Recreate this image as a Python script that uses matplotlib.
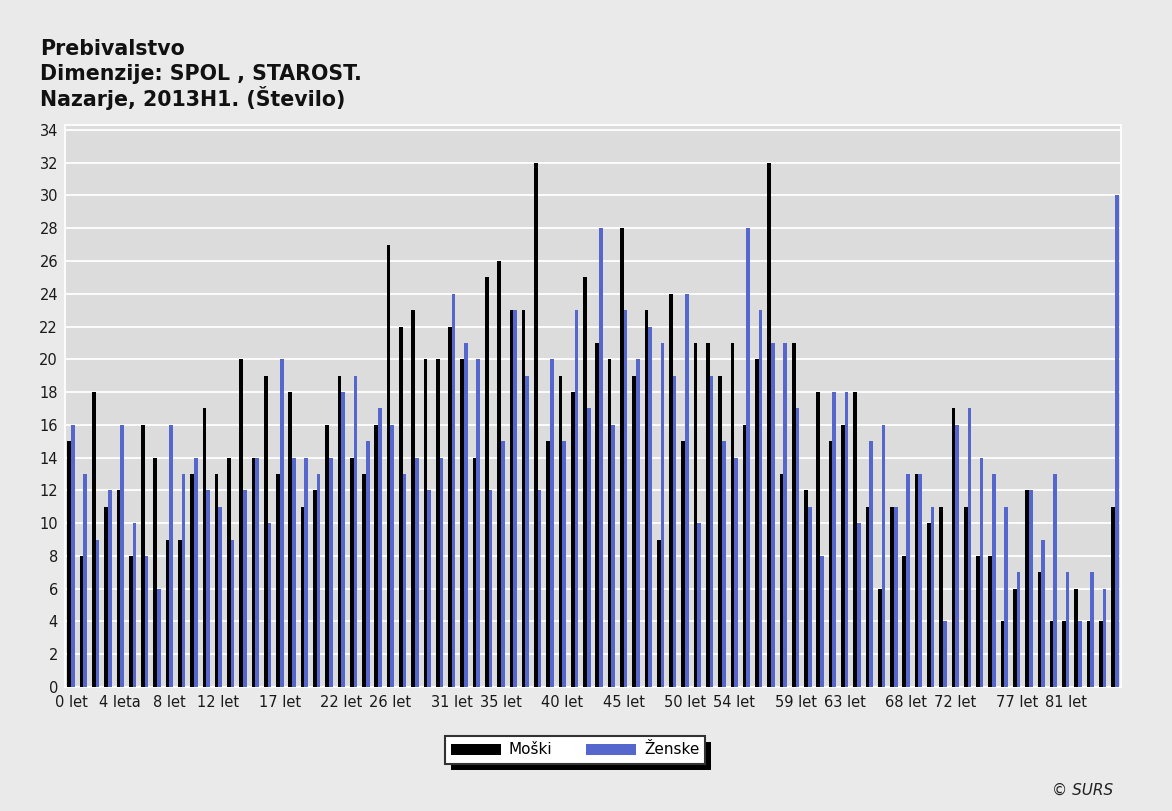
import matplotlib
matplotlib.use("Agg")
import matplotlib.pyplot as plt
from matplotlib.patches import Rectangle
import numpy as np


def age_label(a):
    if a % 100 == 1:
        return f"{a} leto"
    if a % 100 == 2:
        return f"{a} leti"
    if a % 100 in (3, 4):
        return f"{a} leta"
    return f"{a} let"


ages = [age_label(a) for a in range(85)] + ["85 + let"]

moski = [15, 8, 18, 11, 12, 8, 16, 14, 9, 9,
         13, 17, 13, 14, 20, 14, 19, 13, 18, 11,
         12, 16, 19, 14, 13, 16, 27, 22, 23, 20,
         20, 22, 20, 14, 25, 26, 23, 23, 32, 15,
         19, 18, 25, 21, 20, 28, 19, 23, 9, 24,
         15, 21, 21, 19, 21, 16, 20, 32, 13, 21,
         12, 18, 15, 16, 18, 11, 6, 11, 8, 13,
         10, 11, 17, 11, 8, 8, 4, 6, 12, 7,
         4, 4, 6, 4, 4, 11]

zenske = [16, 13, 9, 12, 16, 10, 8, 6, 16, 13,
          14, 12, 11, 9, 12, 14, 10, 20, 14, 14,
          13, 14, 18, 19, 15, 17, 16, 13, 14, 12,
          14, 24, 21, 20, 12, 15, 23, 19, 12, 20,
          15, 23, 17, 28, 16, 23, 20, 22, 21, 19,
          24, 10, 19, 15, 14, 28, 23, 21, 21, 17,
          11, 8, 18, 18, 10, 15, 16, 11, 13, 13,
          11, 4, 16, 17, 14, 13, 11, 7, 12, 9,
          13, 7, 4, 7, 6, 30]

shown_ticks = [0, 4, 8, 12, 17, 22, 26, 31, 35, 40, 45, 50, 54, 59, 63, 68, 72, 77, 81]

title_lines = ["Prebivalstvo", "Dimenzije: SPOL , STAROST.", "Nazarje, 2013H1. (Število)"]

BG = "#eaeaea"
PLOT_BG = "#dcdcdc"
BLUE = "#5566cc"

fig = plt.figure(figsize=(11.72, 8.11), dpi=100, facecolor=BG)
ax = fig.add_axes([65 / 1172, 1 - 687 / 811, (1121 - 65) / 1172, (687 - 125) / 811])
ax.set_facecolor(PLOT_BG)

x = np.arange(len(ages))
w = 0.3
ax.bar(x - w, moski, width=w, align="edge", color="black", label="Moški", zorder=3)
ax.bar(x, zenske, width=w, align="edge", color=BLUE, label="Ženske", zorder=3)

ax.set_xlim(-0.5, len(ages) - 0.5)
ax.set_ylim(0, 34.3)
ax.set_yticks(range(0, 35, 2))
ax.set_xticks(shown_ticks)
ax.set_xticklabels([ages[i] for i in shown_ticks])
ax.tick_params(axis="both", length=0, labelsize=10.5, colors="#1a1a1a")
ax.tick_params(axis="y", pad=5)
ax.tick_params(axis="x", pad=6)
ax.yaxis.grid(True, color="white", linewidth=1.3, zorder=0)
ax.set_axisbelow(True)
for s in ax.spines.values():
    s.set_color("white")
    s.set_linewidth(1.3)

# three title lines, fixed baselines
for line, base in zip(title_lines, [55, 80, 106]):
    fig.text(40 / 1172, 1 - base / 811, line, ha="left", va="baseline",
             fontsize=14.8, fontweight="bold", color="#111111")

leg = fig.legend(loc="center", bbox_to_anchor=(575 / 1172, 1 - 750 / 811), ncol=2,
                 fontsize=11, frameon=True, fancybox=False, edgecolor="#333333",
                 facecolor="white", framealpha=1, handlelength=3.3, handleheight=0.75,
                 handletextpad=0.5, columnspacing=2.2, borderpad=0.4)
leg.get_frame().set_linewidth(1.5)

# drop shadow behind the legend box
fig.canvas.draw()
bb = leg.get_window_extent().transformed(fig.transFigure.inverted())
dx, dy = 6 / 1172, 6 / 811
fig.add_artist(Rectangle((bb.x0 + dx, bb.y0 - dy), bb.width, bb.height,
                         transform=fig.transFigure, facecolor="black",
                         edgecolor="none", zorder=4))

fig.text(1113 / 1172, 1 - 790 / 811, "© SURS", ha="right", va="center",
         fontsize=11, fontstyle="italic", color="#222222")

fig.savefig("out.png", dpi=100, facecolor=BG)
